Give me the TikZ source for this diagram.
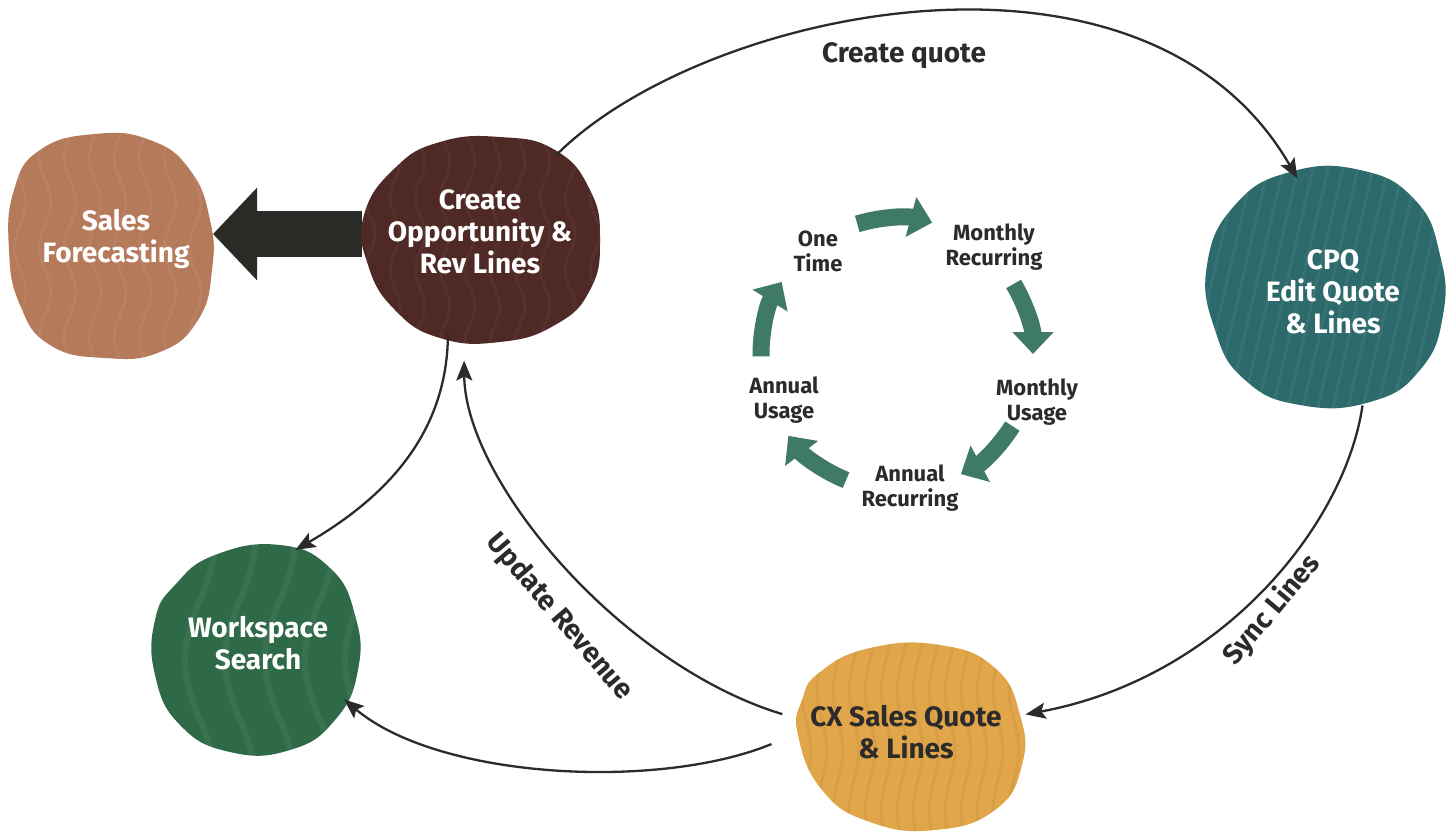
\documentclass[tikz,border=0pt]{standalone}
\usepackage{fontspec}
\setmainfont{Fira Sans}
\usetikzlibrary{arrows.meta,shapes.geometric}
\pgfdeclarelayer{arrowlayer}
\pgfdeclarelayer{bloblayer}
\pgfsetlayers{arrowlayer,bloblayer,main}
\definecolor{sfcol}{HTML}{B57A5A}
\definecolor{cocol}{HTML}{4F2925}
\definecolor{cpqcol}{HTML}{2D6A6C}
\definecolor{cxcol}{HTML}{E1A54A}
\definecolor{wscol}{HTML}{2E6A47}
\definecolor{cyccol}{HTML}{3F7A66}
\definecolor{blk}{HTML}{2A2A26}
\definecolor{ink}{HTML}{2B2B2B}
\def\sfpath{plot[smooth cycle,tension=.8] coordinates {(40,150) (95,134) (150,140) (190,170) (210,220) (212,270) (198,320) (160,352) (105,358) (50,345) (20,305) (9,250) (14,190)}}
\def\copath{plot[smooth cycle,tension=.8] coordinates {(395,168) (440,142) (500,137) (555,150) (590,190) (600,240) (590,290) (555,325) (500,342) (440,338) (395,310) (368,265) (364,215)}}
\def\cpqpath{plot[smooth cycle,tension=.8] coordinates {(1235,205) (1290,172) (1360,170) (1415,200) (1440,255) (1443,315) (1420,370) (1370,402) (1300,405) (1245,380) (1215,330) (1207,265)}}
\def\cxpath{plot[smooth cycle,tension=.8] coordinates {(820,672) (870,648) (940,645) (995,668) (1020,715) (1022,765) (995,810) (935,830) (870,822) (822,790) (798,735) (802,700)}}
\def\wspath{plot[smooth cycle,tension=.8] coordinates {(175,585) (215,555) (280,545) (330,568) (355,615) (358,670) (335,720) (290,750) (230,752) (180,725) (155,675) (155,620)}}
\begin{document}
\begin{tikzpicture}[x=1pt,y=-1pt,
  blob/.style={ellipse,inner sep=0pt,outer sep=0pt},
  blobtxt/.style={align=center,font=\bfseries\fontsize{28}{32}\selectfont,text=white},
  conn/.style={draw=ink,line width=2.3pt,-{Stealth[length=20pt,width=16pt,inset=4pt]}},
  lbl/.style={font=\bfseries\fontsize{28}{32}\selectfont,text=ink},
  cyc/.style={draw=cyccol,line width=17pt,-{Triangle[length=22pt,width=40pt]}},
  cyclbl/.style={align=center,font=\bfseries\fontsize{22}{25}\selectfont,text=ink},
  tex/.style={draw=white,opacity=.06,line width=3pt}]
\useasboundingbox (0,0) rectangle (1448,833);
% blob anchors
\node[blob,minimum width=198pt,minimum height=226pt] (sf) at (114,240) {};
\node[blob,minimum width=236pt,minimum height=205pt] (co) at (480,234) {};
\node[blob,minimum width=236pt,minimum height=236pt] (cpq) at (1330,292) {};
\node[blob,minimum width=240pt,minimum height=186pt] (cx) at (908,733) {};
\node[blob,minimum width=205pt,minimum height=205pt] (ws) at (257,645) {};
% texts
\node[blobtxt] (sft) at (116,239) {Sales\\Forecasting};
\node[blobtxt] (cot) at (480,232) {Create\\Opportunity \&\\Rev Lines};
\node[blobtxt] (cpqt) at (1333,292) {CPQ\\Edit Quote\\\& Lines};
\node[blobtxt,text=ink] (cxt) at (906,732) {CX Sales Quote\\\& Lines};
\node[blobtxt] (wst) at (258,643) {Workspace\\Search};
% blob shapes
\begin{pgfonlayer}{bloblayer}
\fill[sfcol] \sfpath;
\begin{scope}\clip \sfpath;
 \foreach \xx in {20,45,...,220}{\draw[tex] plot[variable=\t,domain=130:360,samples=30] ({\xx+6*sin(4*\t)},\t);}
\end{scope}
\fill[cocol] \copath;
\begin{scope}\clip \copath;
 \foreach \xx in {370,395,...,610}{\draw[tex,opacity=.04] plot[variable=\t,domain=130:350,samples=30] ({\xx+5*sin(5*\t)},\t);}
\end{scope}
\fill[cpqcol] \cpqpath;
\begin{scope}\clip \cpqpath;
 \foreach \xx in {1150,1165,...,1460}{\draw[tex] (\xx,420) -- ++(60,-260);}
\end{scope}
\fill[cxcol] \cxpath;
\begin{scope}\clip \cxpath;
 \foreach \xx in {790,806,...,1030}{\draw[tex,draw=black,opacity=.04] plot[variable=\t,domain=640:835,samples=30] ({\xx+5*sin(3*\t)},\t);}
\end{scope}
\fill[wscol] \wspath;
\begin{scope}\clip \wspath;
 \foreach \xx in {160,200,...,360}{\draw[tex,line width=6pt] plot[variable=\t,domain=540:760,samples=30] ({\xx+15*sin(1.5*\t)},\t);}
\end{scope}
\end{pgfonlayer}
% black arrow
\begin{pgfonlayer}{arrowlayer}
\draw[draw=blk,line width=46pt,-{Triangle[length=44pt,width=90pt]}] (co.west) -- (co.west -| sf.east);
\end{pgfonlayer}
% connectors
\draw[conn] (co.46) .. controls (700,10) and (1144,-87) .. (cpq.106);
\node[lbl,anchor=base] (lq) at (904,62) {Create quote};
\draw[conn] (cpq.-74) .. controls (1345,525) and (1222,678) .. (cx.9);
\node[lbl,rotate=50] (ls) at (1272,610) {Sync Lines};
\draw[conn,shorten <=18pt] (cx.182) .. controls (660,790) and (440,780) .. (ws.-32);
\draw[conn,shorten <=8pt,shorten >=25pt] (cx.172) .. controls (620,665) and (465,480) .. (co.-99);
\node[lbl,rotate=-49.5] (lu) at (559,617) {Update Revenue};
\draw[conn] (co.-108) .. controls (448,430) and (390,495) .. (ws.68);
% cycle
\coordinate (cc) at (897,354);
\draw[cyc] ([shift={(-107:136)}]cc) arc[start angle=-107,end angle=-75,radius=136];
\draw[cyc] ([shift={(-31:136)}]cc) arc[start angle=-31,end angle=0,radius=136];
\draw[cyc] ([shift={(32:136)}]cc) arc[start angle=32,end angle=62,radius=136];
\draw[cyc] ([shift={(112:136)}]cc) arc[start angle=112,end angle=143,radius=136];
\draw[cyc] ([shift={(179:136)}]cc) arc[start angle=179,end angle=212,radius=136];
\node[cyclbl] (c1) at (818,251) {One\\Time};
\node[cyclbl] (c2) at (994,247) {Monthly\\Recurring};
\node[cyclbl] (c3) at (1037,402) {Monthly\\Usage};
\node[cyclbl] (c4) at (910,488) {Annual\\Recurring};
\node[cyclbl] (c5) at (784,400) {Annual\\Usage};
\end{tikzpicture}
\end{document}
